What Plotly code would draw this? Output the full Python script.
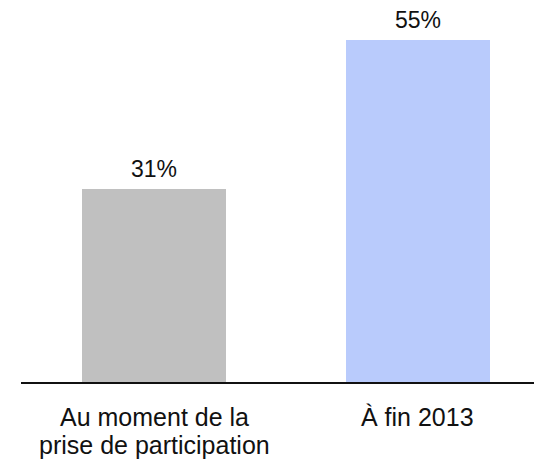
import plotly.graph_objects as go

categories = ["Au moment de la prise de participation", "À fin 2013"]
category_lines = [["Au moment de la", "prise de participation"], ["À fin 2013"]]
values = [31, 55]
value_labels = ["31%", "55%"]
bar_colors = ["#c0c0c0", "#b9cbfc"]

FONT = "Liberation Sans, Arial, sans-serif"
INK = "#111111"

fig = go.Figure(
    go.Bar(
        x=categories,
        y=values,
        marker=dict(color=bar_colors, line=dict(width=0)),
        width=0.545,
        hoverinfo="skip",
    )
)

# value labels above each bar
for cat, val, lab in zip(categories, values, value_labels):
    fig.add_annotation(
        x=cat, y=val, text=lab, showarrow=False,
        yanchor="bottom", yshift=5,
        font=dict(family=FONT, size=23, color=INK),
    )

# category labels under the axis, one annotation per line for tight leading
for cat, lines in zip(categories, category_lines):
    for i, line in enumerate(lines):
        fig.add_annotation(
            x=cat, y=0, text=line, showarrow=False,
            yanchor="middle", yshift=-35 - 28 * i,
            font=dict(family=FONT, size=25, color=INK),
        )

fig.update_layout(
    width=554, height=468,
    margin=dict(l=21, r=20, t=9, b=86),
    paper_bgcolor="white", plot_bgcolor="white",
    showlegend=False,
    bargap=0,
    font=dict(family=FONT, size=23, color=INK),
)
fig.update_xaxes(
    range=[-0.504, 1.44],
    showline=True, linecolor=INK, linewidth=1.5,
    ticks="", showgrid=False, zeroline=False,
    showticklabels=False,
)
fig.update_yaxes(range=[0, 60], visible=False, showgrid=False, zeroline=False)

fig.write_html("out.html")
